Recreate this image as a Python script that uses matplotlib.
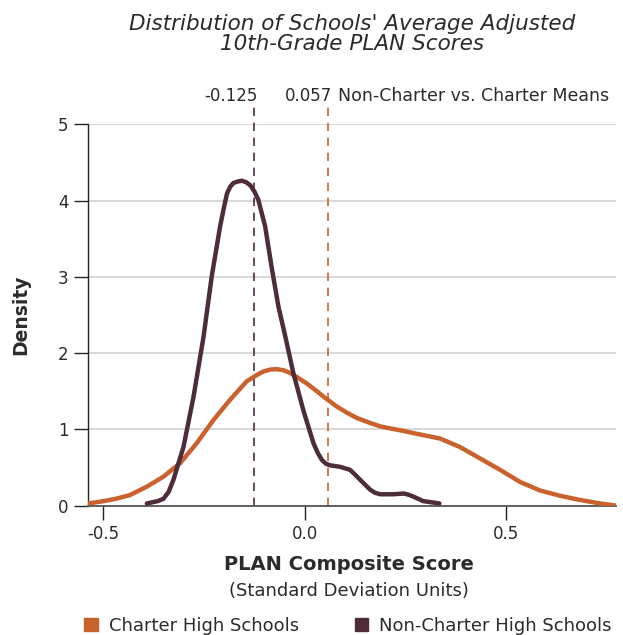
import numpy as np
import matplotlib
matplotlib.use("Agg")
from matplotlib import pyplot as plt
from matplotlib.patches import Patch

plt.rcParams['font.family'] = ['DejaVu Sans']

# Curves
charter_x = [-0.537, -0.50, -0.47, -0.434, -0.392, -0.351, -0.309, -0.268, -0.227,
             -0.185, -0.144, -0.120, -0.102, -0.085, -0.069, -0.052, -0.036, -0.020,
             0.006, 0.026, 0.047, 0.080, 0.105, 0.130, 0.160, 0.188, 0.216, 0.246,
             0.272, 0.300, 0.337, 0.386, 0.436, 0.486, 0.536, 0.585, 0.635,
             0.685, 0.734, 0.776]
charter_y = [0.03, 0.06, 0.09, 0.14, 0.25, 0.38, 0.56, 0.82, 1.12,
             1.39, 1.63, 1.71, 1.76, 1.785, 1.79, 1.775, 1.74, 1.69,
             1.60, 1.52, 1.43, 1.30, 1.22, 1.15, 1.09, 1.04, 1.01, 0.98,
             0.95, 0.92, 0.88, 0.77, 0.62, 0.47, 0.31, 0.20, 0.13,
             0.075, 0.03, 0.0]

noncharter_x = [-0.392, -0.365, -0.351, -0.338, -0.326, -0.301, -0.276, -0.251, -0.231,
                -0.21, -0.200, -0.193, -0.185, -0.177, -0.166, -0.156, -0.145, -0.135,
                -0.125, -0.115, -0.098, -0.082, -0.065, -0.048, -0.028, -0.003, 0.022,
                0.033, 0.043, 0.053, 0.063, 0.088, 0.113, 0.125, 0.138, 0.163, 0.175,
                0.188, 0.221, 0.246, 0.258, 0.270, 0.295, 0.335]
noncharter_y = [0.03, 0.06, 0.09, 0.18, 0.34, 0.77, 1.43, 2.22, 3.0,
                3.66, 3.92, 4.09, 4.18, 4.23, 4.25, 4.26, 4.24, 4.20,
                4.12, 4.01, 3.66, 3.13, 2.61, 2.22, 1.74, 1.25, 0.82,
                0.69, 0.60, 0.55, 0.53, 0.51, 0.47, 0.41, 0.34, 0.21, 0.17,
                0.15, 0.15, 0.16, 0.145, 0.12, 0.06, 0.03]

mean_noncharter = -0.125
mean_charter = 0.057

orange = '#C9622C'
plum = '#4E2C3A'
txt = '#2b2b2b'

fig = plt.figure(figsize=(6.23, 6.35), dpi=100)
ax = fig.add_axes([0.1408, 0.2036, 0.848, 0.6007])

ax.plot(charter_x, charter_y, color=orange, lw=3.2, solid_capstyle='round',
        solid_joinstyle='round', zorder=3)
ax.plot(noncharter_x, noncharter_y, color=plum, lw=3.2, solid_capstyle='round',
        solid_joinstyle='round', zorder=4)

for m, c in [(mean_noncharter, plum), (mean_charter, orange)]:
    ax.plot([m, m], [0, 5.22], color=c, lw=1.2, ls=(0, (5, 4)), clip_on=False, zorder=2)

ax.set_xlim(-0.539, 0.774)
ax.set_ylim(0, 5)
ax.set_yticks([0, 1, 2, 3, 4, 5])
ax.set_xticks([-0.5, 0.0, 0.5])
ax.set_xticklabels(['-0.5', '0.0', '0.5'])
ax.grid(axis='y', color='#d6d6d6', lw=1.3)
ax.set_axisbelow(True)
for s in ['top', 'right']:
    ax.spines[s].set_visible(False)
ax.spines['left'].set_color('#222222')
ax.spines['left'].set_linewidth(1.0)
ax.spines['bottom'].set_color('#555555')
ax.spines['bottom'].set_linewidth(1.3)
ax.tick_params(axis='both', length=10, width=1.0, color='#222222', labelsize=12,
               labelcolor=txt, pad=4)

ax.set_ylabel('Density', fontsize=13.5, fontweight='bold', color=txt, labelpad=20)

fig.text(352 / 623, 1 - 34 / 635, "Distribution of Schools' Average Adjusted\n10th-Grade PLAN Scores",
         ha='center', va='center', fontsize=15.5, style='italic', color=txt, linespacing=1.05)

fig.text(258 / 623, 1 - 96 / 635, '-0.125', ha='right', va='center', fontsize=12, color=txt)
fig.text(332 / 623, 1 - 96 / 635, '0.057', ha='right', va='center', fontsize=12, color=txt)
fig.text(338 / 623, 1 - 96 / 635, 'Non-Charter vs. Charter Means', ha='left', va='center',
         fontsize=12.5, color=txt)

fig.text(349 / 623, 1 - 564 / 635, 'PLAN Composite Score', ha='center', va='center',
         fontsize=14, fontweight='bold', color=txt)
fig.text(349 / 623, 1 - 591 / 635, '(Standard Deviation Units)', ha='center', va='center',
         fontsize=13, color=txt)

handles = [Patch(color=orange, label='Charter High Schools'),
           Patch(color=plum, label='Non-Charter High Schools')]
fig.legend(handles=handles, loc='center', bbox_to_anchor=(348 / 623, 1 - 626 / 635), ncol=2,
           frameon=False, fontsize=13, handlelength=0.75, handleheight=0.75,
           handletextpad=0.6, columnspacing=3.1, labelcolor=txt)

fig.savefig('out.png', dpi=100)
